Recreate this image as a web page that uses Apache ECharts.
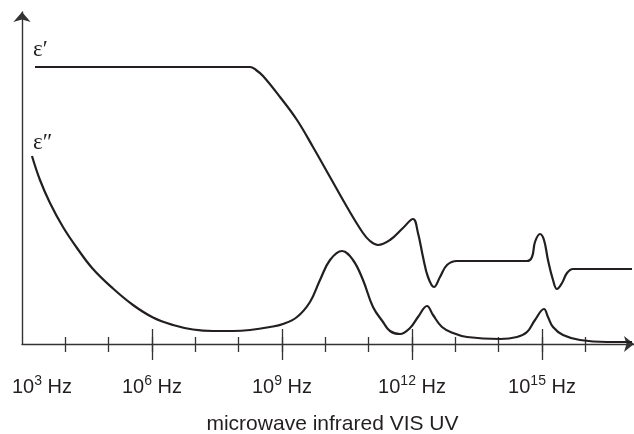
<!DOCTYPE html>
<html>
<head>
<meta charset="utf-8">
<title>Dielectric permittivity versus frequency</title>
<script src="https://cdn.jsdelivr.net/npm/echarts@6/dist/echarts.min.js"></script>
<style>
  html, body { margin: 0; padding: 0; background: #ffffff; }
  #chart { width: 634px; height: 434px; }
</style>
</head>
<body>
<div id="chart"></div>
<script>
// Frequency is given as log10(f / Hz); permittivity in arbitrary units.
const epsRealLogF = [3.30, 8.262, 8.40, 8.562, 8.954, 9.346, 9.715, 10.108, 10.50, 10.869, 11.031, 11.215,
  11.492, 11.792, 12.023, 12.138, 12.254, 12.369, 12.508, 12.646, 12.808, 13.038, 13.523, 14.654,
  14.769, 14.838, 14.954, 15.046, 15.138, 15.254, 15.346, 15.462, 15.577, 15.715, 17.077];
const epsRealVal = [277, 277, 274, 268, 247, 224, 197, 167, 137, 111, 103, 99,
  104, 116, 125, 111, 87, 67, 57, 67, 79, 83, 83, 83,
  87, 102, 110, 104, 84, 64, 55, 61, 71, 75, 75];

const epsImagLogF = [3.23, 3.415, 3.646, 3.946, 4.269, 4.638, 5.10, 5.562, 6.023, 6.485, 6.946, 7.408,
  7.869, 8.262, 8.723, 9.023, 9.346, 9.646, 9.877, 10.108, 10.385, 10.638, 10.869, 11.10, 11.331,
  11.492, 11.723, 11.954, 12.138, 12.346, 12.485, 12.692, 12.946, 13.269, 14.031, 14.423, 14.654,
  14.838, 15.046, 15.138, 15.254, 15.485, 15.877, 16.50, 17.077];
const epsImagVal = [188, 164, 141, 117, 96, 75, 55.5, 39, 26.5, 19, 14.5, 13,
  13, 14, 17, 20, 27, 42, 64, 84, 93, 84, 64, 37, 22,
  13, 10, 16, 27, 38, 29, 17, 11, 7, 5, 7, 12,
  24, 35, 27, 17, 9, 4, 2, 2];

// Axis ticks and labels (decades of frequency)
const labelDecades = [3, 6, 9, 12, 15];
const labelExponents = ['3', '6', '9', '12', '15'];
const majorTickDecades = [6, 9, 12, 15];
const allTickDecades = [4, 5, 6, 7, 8, 9, 10, 11, 12, 13, 14, 15, 16];
const axisCaption = 'microwave infrared VIS UV';
const curveNames = ['ε′', 'ε″'];

const X_MIN = 3, X_MAX = 17.123, Y_MAX = 332;
const INK = '#231f20';
const AXIS_INK = '#333333';

function zip(xs, ys) { return xs.map((x, i) => [x, ys[i]]); }

function tickAxis(values, length, inside) {
  return {
    type: 'value', min: X_MIN, max: X_MAX, interval: 1, position: 'bottom',
    axisLine: { show: false },
    axisTick: { show: true, inside: inside, length: length, customValues: values,
                lineStyle: { color: AXIS_INK, width: 1.3 } },
    axisLabel: { show: false },
    splitLine: { show: false }
  };
}

const chart = echarts.init(document.getElementById('chart'), null, { renderer: 'canvas' });

chart.setOption({
  animation: false,
  backgroundColor: '#ffffff',
  grid: { left: 22, right: 0, top: 12, bottom: 90, containLabel: false, outerBoundsMode: 'none' },
  xAxis: [
    {
      type: 'value', min: X_MIN, max: X_MAX, interval: 1, position: 'bottom',
      axisLine: { show: true, symbol: ['none', 'arrow'], symbolSize: [12, 10],
                  lineStyle: { color: AXIS_INK, width: 1.4 } },
      axisTick: { show: true, inside: false, length: 8, customValues: allTickDecades,
                  lineStyle: { color: AXIS_INK, width: 1.3 } },
      axisLabel: {
        show: true, customValues: labelDecades, margin: 30,
        formatter: function (v) {
          const i = labelDecades.indexOf(Math.round(v));
          const lead = Math.round(v) === X_MIN ? '{pad|}' : '';
          return lead + '{b|10}{s|' + labelExponents[i] + '}{b| Hz}';
        },
        rich: {
          pad: { width: 40 },
          b: { fontFamily: 'Liberation Sans', fontSize: 20, color: INK },
          s: { fontFamily: 'Liberation Sans', fontSize: 14, color: INK, padding: [0, 0, 12, 0] }
        }
      },
      splitLine: { show: false },
      name: axisCaption, nameLocation: 'middle', nameGap: 70,
      nameTextStyle: { fontFamily: 'Liberation Sans', fontSize: 21, color: INK, padding: [0, 0, 0, 9] }
    },
    tickAxis(allTickDecades, 7, true),
    tickAxis(majorTickDecades, 16, false),
    tickAxis(majorTickDecades, 15, true)
  ],
  yAxis: {
    type: 'value', min: 0, max: Y_MAX,
    axisLine: { show: true, symbol: ['none', 'arrow'], symbolSize: [13, 10],
                lineStyle: { color: AXIS_INK, width: 1.4 } },
    axisTick: { show: false }, axisLabel: { show: false }, splitLine: { show: false }
  },
  graphic: [
    { type: 'text', left: 33, top: 38, style: { text: curveNames[0], font: '23px "Liberation Serif"', fill: INK } },
    { type: 'text', left: 33, top: 131, style: { text: curveNames[1], font: '23px "Liberation Serif"', fill: INK } }
  ],
  series: [
    {
      name: curveNames[0], type: 'line', xAxisIndex: 0, yAxisIndex: 0,
      data: zip(epsRealLogF, epsRealVal), smooth: 0.4, showSymbol: false, symbol: 'none',
      lineStyle: { color: INK, width: 2.2 }
    },
    {
      name: curveNames[1], type: 'line', xAxisIndex: 0, yAxisIndex: 0,
      data: zip(epsImagLogF, epsImagVal), smooth: 0.4, showSymbol: false, symbol: 'none',
      lineStyle: { color: INK, width: 2.2 }
    }
  ]
});
</script>
</body>
</html>
